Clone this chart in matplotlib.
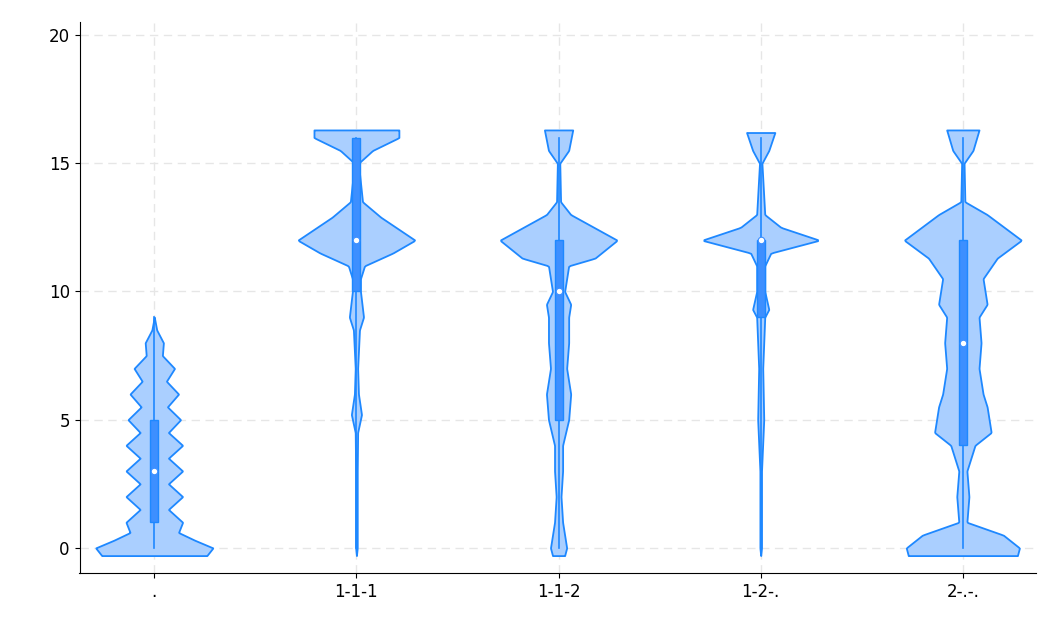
import numpy as np
import matplotlib
matplotlib.use("Agg")
import matplotlib.pyplot as plt

categories = [".", "1-1-1", "1-1-2", "1-2-.", "2-.-."]
# density profiles: (y levels, half widths)
profiles = {
    ".": ([-0.3, 0, 0.3, 0.6, 1, 1.5, 2, 2.5, 3, 3.5, 4, 4.5, 5, 5.5, 6, 6.5, 7, 7.5, 8, 8.5, 9],
          [0.26, 0.29, 0.2, 0.12, 0.14, 0.07, 0.14, 0.07, 0.14, 0.07, 0.14, 0.07, 0.13, 0.065, 0.12, 0.06, 0.1, 0.04, 0.045, 0.012, 0.0]),
    "1-1-1": ([-0.3, 0, 3, 4.5, 5.2, 6, 7, 8, 8.5, 9, 10, 10.5, 11, 11.5, 12, 12.9, 13.5, 15, 15.5, 16, 16.3],
              [0.0, 0.004, 0.004, 0.006, 0.025, 0.01, 0.006, 0.012, 0.015, 0.035, 0.02, 0.02, 0.04, 0.18, 0.29, 0.12, 0.03, 0.01, 0.08, 0.21, 0.21]),
    "1-1-2": ([-0.3, 0, 0.5, 1, 2, 3, 4, 5, 6, 7, 8, 9, 9.5, 10, 11, 11.3, 12, 13, 13.5, 15, 15.5, 16.3],
              [0.03, 0.04, 0.03, 0.02, 0.012, 0.02, 0.02, 0.05, 0.06, 0.04, 0.05, 0.05, 0.06, 0.03, 0.05, 0.18, 0.29, 0.06, 0.01, 0.006, 0.05, 0.07]),
    "1-2-.": ([-0.3, 0, 3, 5, 7, 9, 9.3, 10, 11, 11.5, 12, 12.5, 13, 15, 15.5, 16.2],
              [0.0, 0.004, 0.004, 0.015, 0.01, 0.02, 0.04, 0.02, 0.02, 0.05, 0.29, 0.1, 0.02, 0.006, 0.04, 0.07]),
    "2-.-.": ([-0.3, 0, 0.5, 1, 2, 3, 4, 4.5, 5.5, 6, 7, 8, 9, 9.5, 10.5, 11.3, 12, 13, 13.5, 15, 15.5, 16.3],
              [0.27, 0.28, 0.2, 0.02, 0.03, 0.02, 0.06, 0.14, 0.12, 0.1, 0.08, 0.09, 0.08, 0.12, 0.1, 0.17, 0.29, 0.12, 0.01, 0.006, 0.05, 0.08]),
}
q1 = [1, 10, 5, 9, 4]
q3 = [5, 16, 12, 12, 12]
medians = [3, 12, 10, 12, 8]
wlo = [0, 0, 0, 0, 0]
whi = [9, 16, 16, 16, 16]

fill_c = "#aacfff"
edge_c = "#1e88ff"
box_c = "#3d8fff"

fig, ax = plt.subplots(figsize=(10.6, 6.36), dpi=100)
fig.subplots_adjust(left=0.075, right=0.977, bottom=0.099, top=0.965)

for i, c in enumerate(categories):
    ys, ws = profiles[c]
    yy = np.linspace(ys[0], ys[-1], 400)
    ww = np.interp(yy, ys, ws)
    ax.fill_betweenx(yy, i - ww, i + ww, facecolor=fill_c, edgecolor=edge_c, linewidth=1.3, zorder=2)
    ax.plot([i, i], [wlo[i], whi[i]], color=edge_c, lw=1.2, zorder=3)
    ax.bar(i, q3[i] - q1[i], bottom=q1[i], width=0.04, color=box_c, edgecolor=edge_c, lw=1, zorder=4)
    ax.scatter(i, medians[i], s=22, color="white", edgecolor=box_c, lw=0.8, zorder=5)

ax.set_xlim(-0.37, 4.36)
ax.set_ylim(-0.98, 20.5)
ax.set_xticks(range(len(categories)))
ax.set_xticklabels(categories)
ax.set_yticks([0, 5, 10, 15, 20])
ax.tick_params(labelsize=12)
ax.grid(True, ls=(0, (6, 4)), color="#e6e6e6", lw=1)
ax.set_axisbelow(True)
for s in ["top", "right"]:
    ax.spines[s].set_visible(False)
fig.savefig("out.png")
